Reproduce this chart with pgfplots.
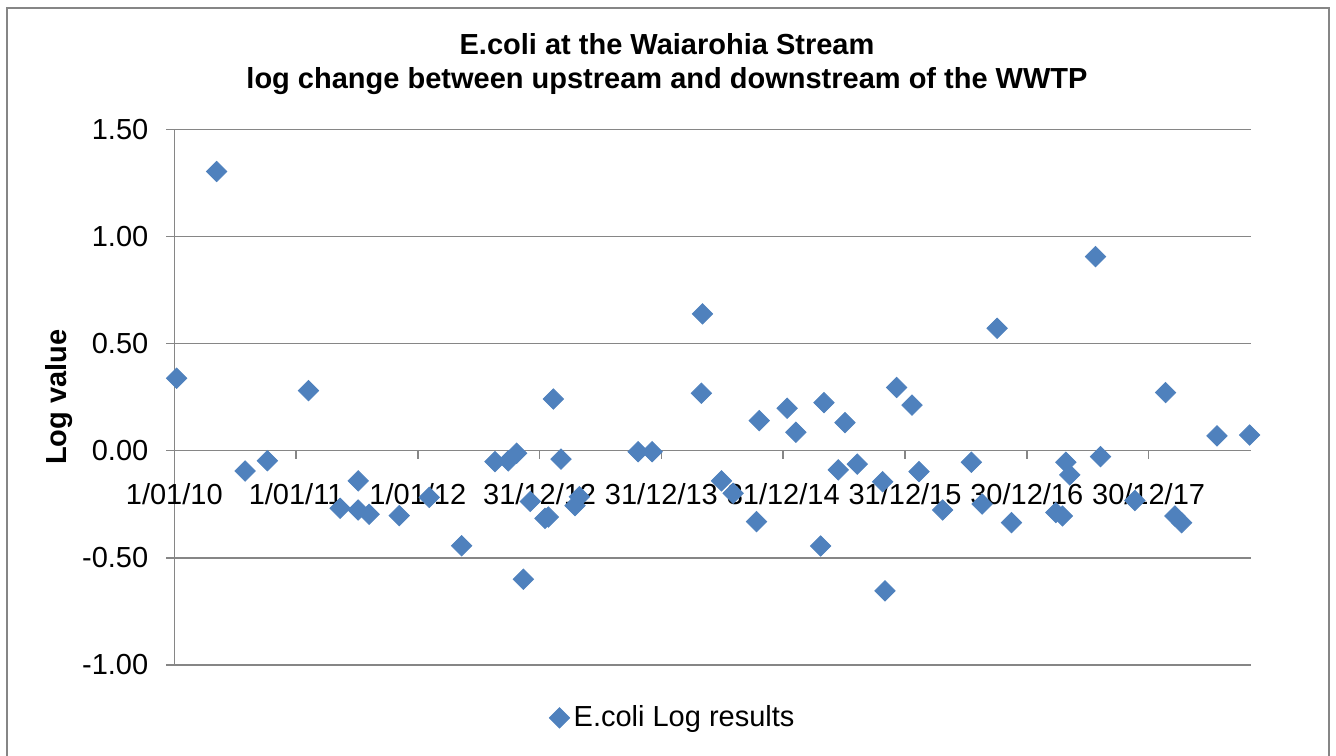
\documentclass[border=0pt]{standalone}
\usepackage{fontspec}
\setmainfont{Liberation Sans}
\usepackage{pgfplots}
\pgfplotsset{compat=1.18}
\definecolor{ptblue}{HTML}{4F81BD}
\definecolor{gridgray}{HTML}{868686}
\newcommand{\cf}{\fontsize{14.5bp}{17.4bp}\selectfont}
\begin{document}
\begin{tikzpicture}
\useasboundingbox (-87.15bp,-45.55bp) rectangle (580.85bp,332.45bp);
\draw[gridgray, line width=1bp] (-83.65bp,-46bp) -- (-83.65bp,328.45bp) -- (577.35bp,328.45bp) -- (577.35bp,-46bp);
\begin{axis}[
  scale only axis,
  width=538.35bp, height=267.8bp,
  xmin=0, xmax=3227,
  ymin=-1, ymax=1.5,
  axis x line*=middle,
  axis y line*=left,
  hide obscured x ticks=false,
  axis line style={draw=gridgray, line width=0.75bp},
  ymajorgrids,
  grid style={gridgray, line width=0.75bp},
  tick align=outside,
  major tick length=4bp,
  tick style={gridgray, line width=0.75bp},
  xtick={0,365,730,1095,1460,1825,2190,2555,2920},
  xticklabels={1/01/10,1/01/11,1/01/12,31/12/12,31/12/13,31/12/14,31/12/15,30/12/16,30/12/17},
  ytick={-1,-0.5,0,0.5,1,1.5},
  /pgf/number format/.cd, fixed, fixed zerofill, precision=2, assume math mode=true,
  /pgfplots/.cd,
  tick label style={font=\cf, text=black},
  xticklabel style={anchor=base, yshift=-22.7bp},
  yticklabel style={anchor=east, xshift=-5.5bp},
  ylabel={Log value},
  every axis y label/.style={at={(axis description cs:-0.1068,0.5)}, rotate=90, anchor=center, font=\cf\bfseries},
  legend style={at={(axis description cs:0.464,-0.0991)}, anchor=center, draw=none, fill=none, font=\cf,
    /tikz/every even column/.append style={column sep=0pt}},
  legend image code/.code={\draw[mark repeat=2,mark phase=2,#1] plot coordinates {(0bp,0bp) (5bp,0bp) (10bp,0bp)};},
]
\addplot[only marks, mark=square*, mark size=3.6bp, mark options={rotate=45, fill=ptblue, draw=ptblue}] coordinates {
(7,0.338) (127,1.303) (212,-0.095) (279,-0.047) (402,0.280) (497,-0.269)
(551,-0.141) (551,-0.277) (584,-0.297) (674,-0.303) (764,-0.218) (861,-0.444)
(961,-0.051) (1001,-0.048) (1026,-0.012) (1046,-0.600) (1067,-0.237) (1111,-0.316)
(1121,-0.310) (1136,0.241) (1159,-0.039) (1201,-0.257) (1214,-0.215) (1390,-0.005)
(1432,-0.005) (1580,0.268) (1583,0.638) (1640,-0.141) (1675,-0.199) (1745,-0.331)
(1753,0.140) (1837,0.198) (1863,0.086) (1937,-0.445) (1947,0.224) (1990,-0.090)
(2010,0.131) (2047,-0.063) (2123,-0.145) (2130,-0.654) (2165,0.295) (2211,0.213)
(2232,-0.098) (2303,-0.277) (2389,-0.054) (2421,-0.249) (2466,0.571) (2509,-0.336)
(2642,-0.289) (2662,-0.305) (2672,-0.054) (2684,-0.113) (2761,0.906) (2776,-0.028)
(2879,-0.233) (2971,0.271) (2999,-0.305) (3019,-0.336) (3125,0.069) (3223,0.073)
};
\addlegendentry{E.coli Log results}
\end{axis}
\node[anchor=base, font=\cf\bfseries] at (246.35bp,305bp) {E.coli at the Waiarohia Stream};
\node[anchor=base, font=\cf\bfseries] at (246.35bp,288bp) {log change between upstream and downstream of the WWTP};
\end{tikzpicture}
\end{document}
